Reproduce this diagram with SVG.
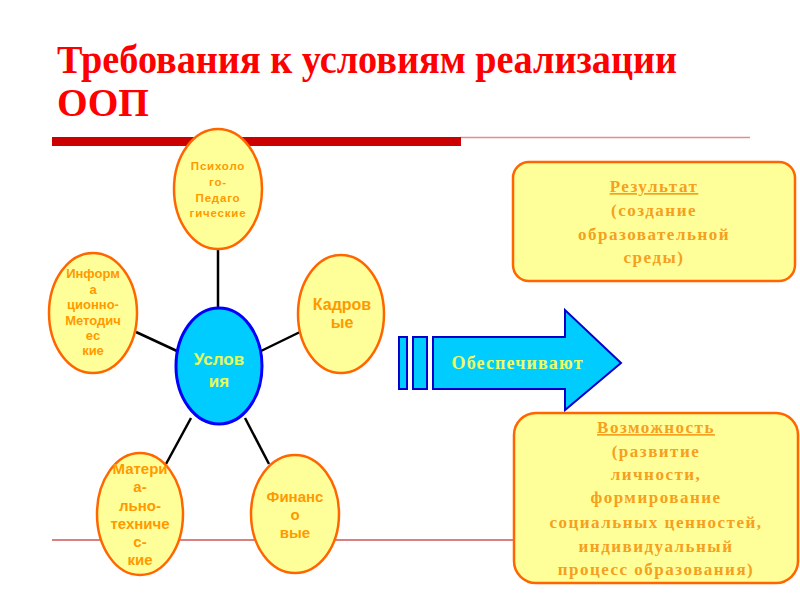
<svg xmlns="http://www.w3.org/2000/svg" width="800" height="600" viewBox="0 0 800 600">
<style>
.title{font-family:"Liberation Serif","Times New Roman",serif;font-weight:bold;font-size:40px;fill:#FF0000}
.node ellipse{fill:#FFFF99;stroke:#FF6600;stroke-width:2.5}
.lbl{font-family:"Liberation Sans",Arial,sans-serif;font-weight:bold;fill:#FF9900;text-anchor:middle}
.box rect{fill:#FFFF99;stroke:#FF6600;stroke-width:2.5}
.btxt{font-family:"Liberation Serif","Times New Roman",serif;font-weight:bold;font-size:17px;fill:#F5A020;text-anchor:middle;letter-spacing:1.5px}
.conn line{stroke:#000;stroke-width:2.5}
</style>
<rect width="800" height="600" fill="#FFFFFF"/>
<text class="title" x="57" y="73" textLength="620" lengthAdjust="spacingAndGlyphs">Требования к условиям реализации</text>
<text class="title" x="57" y="116" textLength="92" lengthAdjust="spacingAndGlyphs">ООП</text>
<line x1="460" y1="137.5" x2="750" y2="137.5" stroke="#E09090" stroke-width="1.5"/>
<rect x="52" y="137" width="409" height="9" fill="#CC0000"/>
<line x1="52" y1="540" x2="516" y2="540" stroke="#D98080" stroke-width="2"/>
<g id="connectors" class="conn">
<line x1="218" y1="249" x2="218" y2="310"/>
<line x1="136" y1="332" x2="177" y2="351"/>
<line x1="261" y1="351" x2="300" y2="332"/>
<line x1="191" y1="418" x2="166" y2="464"/>
<line x1="245" y1="418" x2="269" y2="464"/>
</g>
<g id="psycho" class="node">
<ellipse cx="218" cy="189" rx="44" ry="60"/>
<text class="lbl" font-size="11.5" letter-spacing="0.8"><tspan x="218" y="170">Психоло</tspan><tspan x="218" y="186">го-</tspan><tspan x="218" y="202">Педаго</tspan><tspan x="218" y="217">гические</tspan></text>
</g>
<g id="inform" class="node">
<ellipse cx="93" cy="313" rx="44" ry="60"/>
<text class="lbl" font-size="13"><tspan x="93" y="278">Информ</tspan><tspan x="93" y="294">а</tspan><tspan x="93" y="309">ционно-</tspan><tspan x="93" y="325">Методич</tspan><tspan x="93" y="340">ес</tspan><tspan x="93" y="355">кие</tspan></text>
</g>
<g id="kadrov" class="node">
<ellipse cx="341" cy="314" rx="43" ry="59"/>
<text class="lbl" font-size="16"><tspan x="342" y="310">Кадров</tspan><tspan x="342" y="328">ые</tspan></text>
</g>
<g id="materi" class="node">
<ellipse cx="140" cy="514" rx="43" ry="61"/>
<text class="lbl" font-size="15"><tspan x="140" y="474">Матери</tspan><tspan x="140" y="492">а-</tspan><tspan x="140" y="511">льно-</tspan><tspan x="140" y="529">техниче</tspan><tspan x="140" y="547">с-</tspan><tspan x="140" y="565">кие</tspan></text>
</g>
<g id="finans" class="node">
<ellipse cx="295" cy="514" rx="44" ry="59"/>
<text class="lbl" font-size="15"><tspan x="295" y="502">Финанс</tspan><tspan x="295" y="520">о</tspan><tspan x="295" y="538">вые</tspan></text>
</g>
<g id="usloviya">
<ellipse cx="219" cy="366" rx="43" ry="58" fill="#00CCFF" stroke="#0000FF" stroke-width="3"/>
<text font-family="Liberation Sans, Arial, sans-serif" font-weight="bold" font-size="17" fill="#E8FF55" text-anchor="middle"><tspan x="219" y="365">Услов</tspan><tspan x="219" y="387">ия</tspan></text>
</g>
<g id="arrow">
<rect x="399" y="337" width="8" height="52" fill="#00CCFF" stroke="#0000CC" stroke-width="2"/>
<rect x="413" y="337" width="14" height="52" fill="#00CCFF" stroke="#0000CC" stroke-width="2"/>
<polygon points="433,337 565,337 565,310 621,363 565,410 565,389 433,389" fill="#00CCFF" stroke="#0000CC" stroke-width="2"/>
<text x="517" y="369" font-family="Liberation Serif, Times New Roman, serif" font-weight="bold" font-size="18" fill="#EEFF66" text-anchor="middle" textLength="131" lengthAdjust="spacing">Обеспечивают</text>
</g>
<g id="result" class="box">
<rect x="513" y="162" width="282" height="119" rx="16"/>
<text class="btxt"><tspan x="654" y="192" text-decoration="underline">Результат</tspan><tspan x="654" y="216">(создание</tspan><tspan x="654" y="240">образовательной</tspan><tspan x="654" y="263">среды)</tspan></text>
</g>
<g id="vozmozhnost" class="box">
<rect x="514" y="413" width="284" height="170" rx="22"/>
<text class="btxt"><tspan x="656" y="433" text-decoration="underline">Возможность</tspan><tspan x="656" y="457">(развитие</tspan><tspan x="656" y="480">личности,</tspan><tspan x="656" y="503">формирование</tspan><tspan x="656" y="528">социальных ценностей,</tspan><tspan x="656" y="552">индивидуальный</tspan><tspan x="656" y="575">процесс образования)</tspan></text>
</g>
</svg>
